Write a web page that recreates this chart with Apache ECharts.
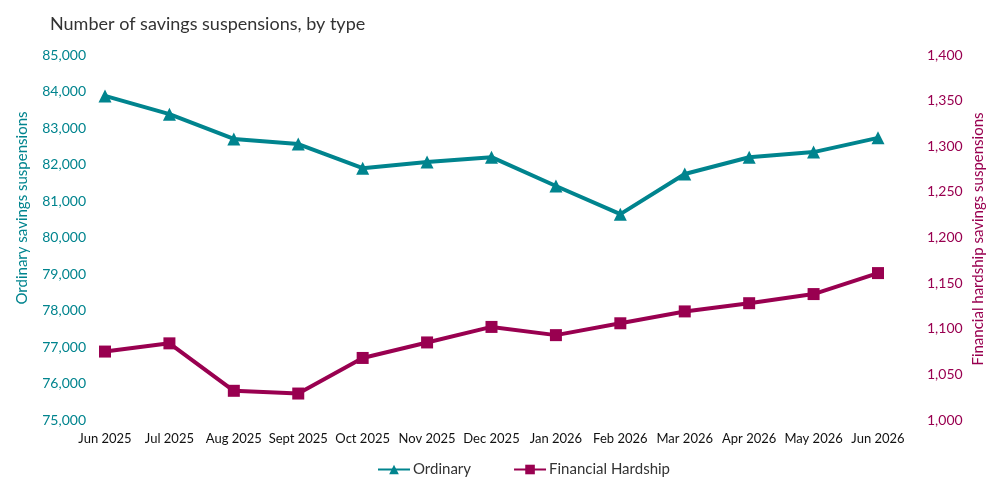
<!DOCTYPE html>
<html>
<head>
<meta charset="utf-8">
<script src="https://cdn.jsdelivr.net/npm/echarts@6/dist/echarts.min.js"></script>
<style>html,body{margin:0;padding:0;background:#fff}#c{width:1000px;height:500px}</style>
</head>
<body>
<div id="c"></div>
<script>
const categories = ['Jun 2025','Jul 2025','Aug 2025','Sept 2025','Oct 2025','Nov 2025','Dec 2025','Jan 2026','Feb 2026','Mar 2026','Apr 2026','May 2026','Jun 2026'];
const ordinary = [83880, 83380, 82700, 82560, 81900, 82070, 82200, 81410, 80640, 81740, 82200, 82340, 82730];
const hardship = [1075, 1084, 1032, 1029, 1068, 1085, 1102, 1093, 1106, 1119, 1128, 1138, 1161];
const TEAL = '#00848E';
const PLUM = '#990050';
const FONT = 'Lato';

const chart = echarts.init(document.getElementById('c'));
chart.setOption({
  animation: false,
  textStyle: { fontFamily: FONT },
  title: {
    text: 'Number of savings suspensions, by type',
    left: 45, top: 10,
    textStyle: { fontFamily: FONT, fontSize: 18, fontWeight: 'normal', color: '#333' }
  },
  legend: {
    bottom: 18, left: 372,
    itemWidth: 32, itemHeight: 12, itemGap: 42,
    textStyle: { fontFamily: FONT, fontSize: 15, color: '#333', padding: [0, 0, 0, -2] },
    data: ['Ordinary', 'Financial Hardship']
  },
  grid: { left: 105, right: 122, top: 55, bottom: 80, containLabel: false },
  xAxis: {
    type: 'category', data: categories, boundaryGap: false,
    axisLine: { show: false }, axisTick: { show: false },
    axisLabel: { color: '#111', fontSize: 13, margin: 12, interval: 0 }
  },
  yAxis: [
    {
      type: 'value', min: 75000, max: 85000, interval: 1000,
      splitLine: { show: false }, axisLine: { show: false }, axisTick: { show: false },
      axisLabel: { color: TEAL, fontSize: 14, margin: 19, formatter: v => v.toLocaleString('en-US') }
    },
    {
      type: 'value', min: 1000, max: 1400, interval: 50,
      splitLine: { show: false }, axisLine: { show: false }, axisTick: { show: false },
      axisLabel: { color: PLUM, fontSize: 14, margin: 49, formatter: v => v.toLocaleString('en-US') }
    }
  ],
  graphic: [
    { type: 'text', x: 22, y: 208, rotation: Math.PI / 2,
      style: { text: 'Ordinary savings suspensions', fill: TEAL, font: '15px Lato', align: 'center', verticalAlign: 'middle' } },
    { type: 'text', x: 978, y: 239, rotation: Math.PI / 2,
      style: { text: 'Financial hardship savings suspensions', fill: PLUM, font: '15px Lato', align: 'center', verticalAlign: 'middle' } }
  ],
  series: [
    {
      name: 'Ordinary', type: 'line', yAxisIndex: 0, data: ordinary,
      symbol: 'triangle', symbolSize: 13,
      lineStyle: { color: TEAL, width: 4 }, itemStyle: { color: TEAL }
    },
    {
      name: 'Financial Hardship', type: 'line', yAxisIndex: 1, data: hardship,
      symbol: 'rect', symbolSize: 12,
      lineStyle: { color: PLUM, width: 4 }, itemStyle: { color: PLUM }
    }
  ]
});
</script>
</body>
</html>
